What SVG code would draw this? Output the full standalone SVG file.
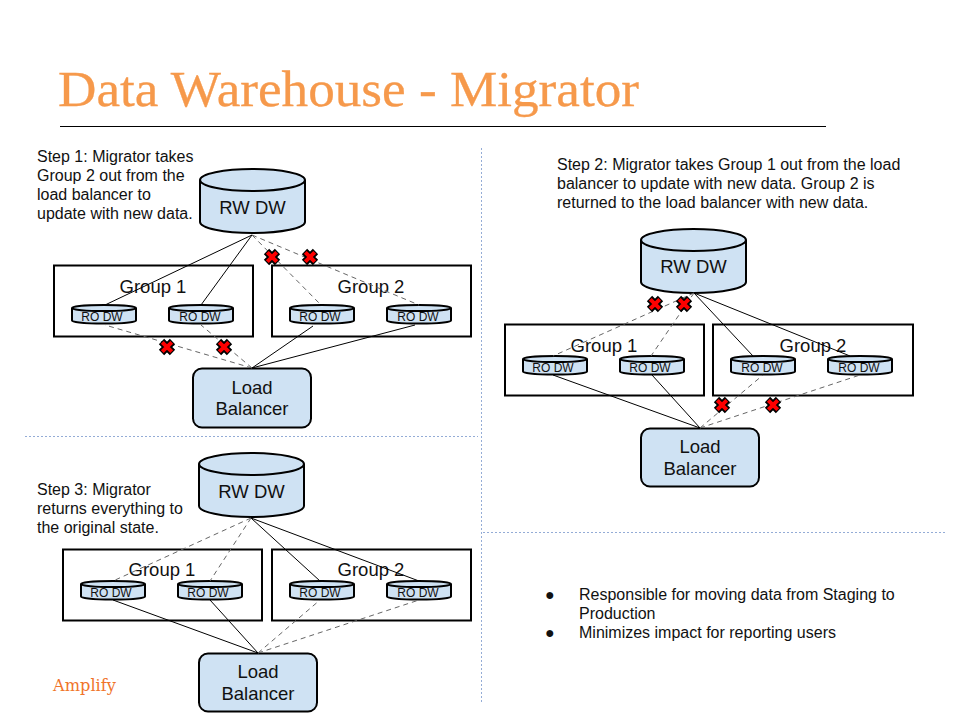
<svg xmlns="http://www.w3.org/2000/svg" xmlns:xlink="http://www.w3.org/1999/xlink" width="960" height="720" viewBox="0 0 960 720">
<style>
text{font-family:"Liberation Sans",Arial,sans-serif;fill:#111}
.title{font-family:"Liberation Serif","Times New Roman",serif;font-size:50px;fill:#f6994b;stroke:#f6994b;stroke-width:.3}
.logo{font-family:"DejaVu Serif","Liberation Serif",serif;font-size:16.200px;fill:#f0742a}
.body{font-size:16px}
.lab{font-size:18.500px;text-anchor:middle}
.ro{font-size:12px;text-anchor:middle}
.box{fill:#fff;stroke:#000;stroke-width:2}
.fillb{fill:#cfe2f3;stroke:#000;stroke-width:2}
.solid{fill:none;stroke:#000;stroke-width:1}
.dash{fill:none;stroke:#666;stroke-width:1;stroke-dasharray:5 4}
.div{fill:none;stroke:#94acd6;stroke-width:1;stroke-dasharray:2 2}
.xo{fill:none;stroke:#000;stroke-width:7.500}
.xi{fill:none;stroke:#f00;stroke-width:4}
</style>
<defs>
<g id="x"><path class="xo" d="M-5.500-5.500L5.500 5.500M5.500-5.500L-5.500 5.500"/><path class="xi" d="M-4.700-4.700L4.700 4.700M4.700-4.700L-4.700 4.700"/></g>
<g id="rw"><path class="fillb" d="M0 11A52.500 11 0 0 1 105 11V53A52.500 11 0 0 1 0 53Z"/><path class="fillb" style="fill:none" d="M0 11A52.500 11 0 0 0 105 11"/></g>
<g id="rod"><path class="fillb" d="M0 3A32 3 0 0 1 64 3V15.500A32 3 0 0 1 0 15.500Z"/><path class="fillb" style="fill:none" d="M0 3A32 3 0 0 0 64 3"/></g>
</defs>
<text class="title" x="58" y="106" textLength="581" lengthAdjust="spacingAndGlyphs">Data Warehouse - Migrator</text>
<path d="M60 126.500H826" stroke="#000" stroke-width="1" fill="none"/>
<g id="dividers">
<path class="div" d="M481.500 148V703"/><path class="div" d="M25 436.500H478"/><path class="div" d="M483 532.500H945"/>
</g>
<text class="body"><tspan x="37" y="162">Step 1: Migrator takes</tspan><tspan x="37" y="181">Group 2 out from the</tspan><tspan x="37" y="200">load balancer to</tspan><tspan x="37" y="219">update with new data.</tspan></text>
<text class="body"><tspan x="557" y="170">Step 2: Migrator takes Group 1 out from the load</tspan><tspan x="557" y="189">balancer to update with new data. Group 2 is</tspan><tspan x="557" y="208">returned to the load balancer with new data.</tspan></text>
<text class="body"><tspan x="37" y="495">Step 3: Migrator</tspan><tspan x="37" y="514">returns everything to</tspan><tspan x="37" y="533">the original state.</tspan></text>
<g id="bullets"><text class="body"><tspan x="545" y="600">●</tspan><tspan x="579" y="600">Responsible for moving data from Staging to</tspan><tspan x="579" y="619">Production</tspan><tspan x="545" y="638">●</tspan><tspan x="579" y="638">Minimizes impact for reporting users</tspan></text></g>
<text class="logo" x="53" y="691">Amplify</text>

<g id="s1-group1"><rect class="box" x="54" y="265.500" width="199" height="71"/><text class="lab" x="153" y="293">Group 1</text></g>
<g id="s1-group2"><rect class="box" x="272" y="265.500" width="199" height="71"/><text class="lab" x="371" y="293">Group 2</text></g>
<g id="s1-rw"><use href="#rw" xlink:href="#rw" x="200" y="169"/><text class="lab" x="252.500" y="214">RW DW</text></g>
<g id="s1-ro1"><use href="#rod" xlink:href="#rod" x="72" y="305"/><text class="ro" x="102" y="321">RO DW</text></g>
<g id="s1-ro2"><use href="#rod" xlink:href="#rod" x="169" y="305"/><text class="ro" x="200" y="321">RO DW</text></g>
<g id="s1-ro3"><use href="#rod" xlink:href="#rod" x="290" y="305"/><text class="ro" x="320" y="321">RO DW</text></g>
<g id="s1-ro4"><use href="#rod" xlink:href="#rod" x="387" y="305"/><text class="ro" x="418" y="321">RO DW</text></g>
<g id="s1-lb"><rect class="fillb" x="193" y="368.500" width="118" height="59" rx="9"/><text class="lab"><tspan x="252" y="394">Load</tspan><tspan x="252" y="415">Balancer</tspan></text></g>

<g id="s2-group1"><rect class="box" x="505" y="324.500" width="199" height="71"/><text class="lab" x="604" y="352">Group 1</text></g>
<g id="s2-group2"><rect class="box" x="713" y="324.500" width="200" height="71"/><text class="lab" x="813" y="352">Group 2</text></g>
<g id="s2-rw"><use href="#rw" xlink:href="#rw" x="641" y="229"/><text class="lab" x="693.500" y="273">RW DW</text></g>
<g id="s2-ro1"><use href="#rod" xlink:href="#rod" x="523" y="356"/><text class="ro" x="553" y="372">RO DW</text></g>
<g id="s2-ro2"><use href="#rod" xlink:href="#rod" x="620" y="356"/><text class="ro" x="650" y="372">RO DW</text></g>
<g id="s2-ro3"><use href="#rod" xlink:href="#rod" x="731" y="356"/><text class="ro" x="762" y="372">RO DW</text></g>
<g id="s2-ro4"><use href="#rod" xlink:href="#rod" x="828" y="356"/><text class="ro" x="859" y="372">RO DW</text></g>
<g id="s2-lb"><rect class="fillb" x="641" y="428.500" width="118" height="58" rx="9"/><text class="lab"><tspan x="700" y="453">Load</tspan><tspan x="700" y="475">Balancer</tspan></text></g>

<g id="s3-group1"><rect class="box" x="63" y="549.500" width="199" height="71"/><text class="lab" x="162" y="576">Group 1</text></g>
<g id="s3-group2"><rect class="box" x="272" y="549.500" width="199" height="71"/><text class="lab" x="371" y="576">Group 2</text></g>
<g id="s3-rw"><use href="#rw" xlink:href="#rw" x="199" y="453"/><text class="lab" x="251.500" y="498">RW DW</text></g>
<g id="s3-ro1"><use href="#rod" xlink:href="#rod" x="81" y="581"/><text class="ro" x="111" y="597">RO DW</text></g>
<g id="s3-ro2"><use href="#rod" xlink:href="#rod" x="178" y="581"/><text class="ro" x="208" y="597">RO DW</text></g>
<g id="s3-ro3"><use href="#rod" xlink:href="#rod" x="290" y="581"/><text class="ro" x="320" y="597">RO DW</text></g>
<g id="s3-ro4"><use href="#rod" xlink:href="#rod" x="387" y="581"/><text class="ro" x="418" y="597">RO DW</text></g>
<g id="s3-lb"><rect class="fillb" x="199" y="653.500" width="118" height="58" rx="9"/><text class="lab"><tspan x="258" y="678">Load</tspan><tspan x="258" y="700">Balancer</tspan></text></g>

<g id="connectors">
<path class="solid" d="M252 235L105 305M252 235L201 305M252 368L313 326M252 368L415 325"/>
<path class="dash" d="M252 235L321 305M252 235L419 305M252 368L105 325M252 368L201 325"/>
<path class="dash" d="M694 293L553 356M694 293L651 356M700 428L763 375M700 428L860 375"/>
<path class="solid" d="M694 293L753 356M694 293L850 356M700 428L553 375M700 428L652 375"/>
<path class="solid" d="M251 518L320 581M251 518L419 581M258 653L113 600M258 653L210 600"/>
<path class="dash" d="M251 518L113 581M251 518L210 581M258 653L320 600M258 653L419 600"/>
</g>
<g id="marks">
<use href="#x" xlink:href="#x" x="272" y="257"/><use href="#x" xlink:href="#x" x="310" y="257"/><use href="#x" xlink:href="#x" x="167" y="347"/><use href="#x" xlink:href="#x" x="224" y="347"/>
<use href="#x" xlink:href="#x" x="655" y="304"/><use href="#x" xlink:href="#x" x="684" y="304"/><use href="#x" xlink:href="#x" x="722" y="405"/><use href="#x" xlink:href="#x" x="773" y="405"/>
</g>
</svg>
